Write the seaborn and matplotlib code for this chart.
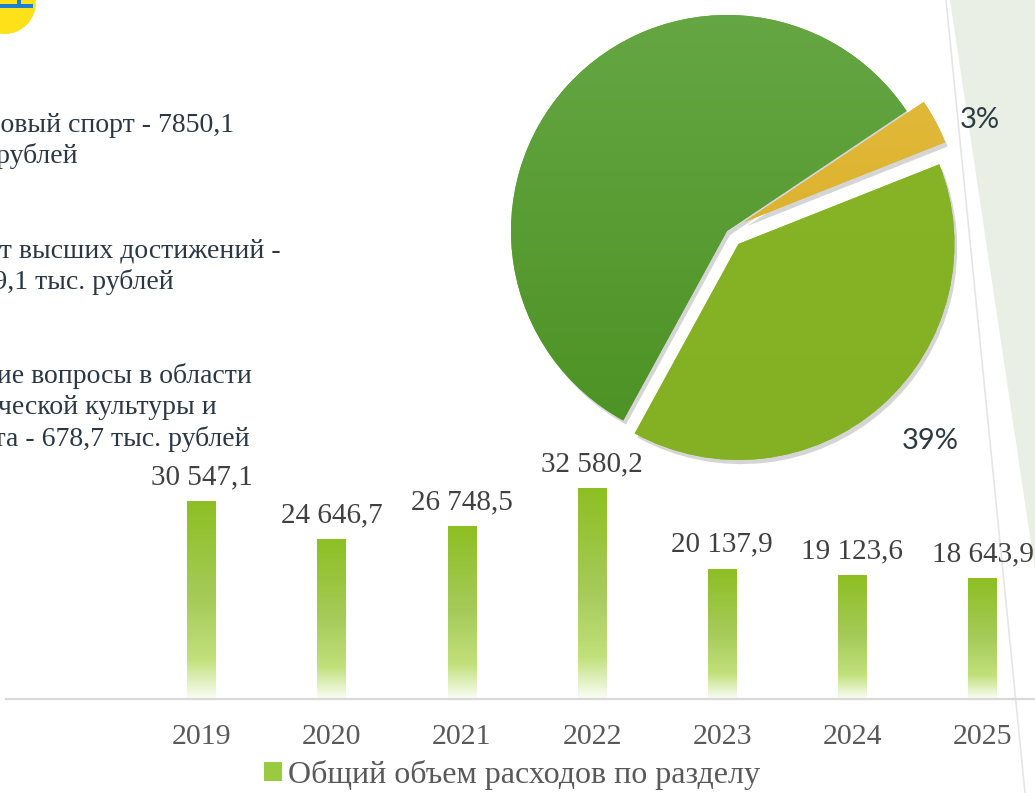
import numpy as np
import pandas as pd
import matplotlib.pyplot as plt
import matplotlib.patches as mpatches
import matplotlib.patheffects as pe
from matplotlib.lines import Line2D
from matplotlib.colors import LinearSegmentedColormap
import seaborn as sns

# data
years = ["2019", "2020", "2021", "2022", "2023", "2024", "2025"]
totals = [30547.1, 24646.7, 26748.5, 32580.2, 20137.9, 19123.6, 18643.9]
legend_label = "Общий объем расходов по разделу"

pie_parts = ["Спорт высших достижений", "Другие вопросы", "Массовый спорт"]
pie_values = [11609.1, 678.7, 7850.1]
pie_show_label = [False, True, True]

side_text = [
    ["Массовый спорт - 7850,1", "тыс. рублей"],
    ["Спорт высших достижений -", "11609,1 тыс. рублей"],
    ["Другие вопросы в области", "физической культуры и", "спорта - 678,7 тыс. рублей"],
]

W, H = 1035, 793


def fx(px):
    return px / W


def fy(py):
    return 1 - py / H


def fmt(v):
    return f"{v:,.1f}".replace(",", " ").replace(".", ",")


sns.set_theme(style="white")
plt.rcParams['font.family'] = ['Liberation Serif', 'DejaVu Serif']

fig = plt.figure(figsize=(10.35, 7.93), dpi=100)
fig.patch.set_facecolor('white')

# slide decoration on the right and the logo corner
fig.add_artist(mpatches.Polygon([[fx(950), fy(0)], [fx(1035), fy(0)], [fx(1035), fy(570)]],
                                closed=True, transform=fig.transFigure, facecolor='#E9EFE5',
                                edgecolor='none', zorder=-2))
fig.add_artist(Line2D([fx(946), fx(1025)], [fy(0), fy(793)], transform=fig.transFigure,
                      color='#E4E6E4', lw=1.2, zorder=-1))
fig.add_artist(mpatches.Ellipse((fx(5), fy(2)), 62 / W, 64 / H, transform=fig.transFigure,
                                facecolor='#FFE119', edgecolor='none'))
fig.add_artist(mpatches.Rectangle((fx(0), fy(8)), 33 / W, 4 / H, transform=fig.transFigure,
                                  facecolor='#1F7FCF', edgecolor='none'))
fig.add_artist(mpatches.Rectangle((fx(17), fy(8)), 4 / W, 8 / H, transform=fig.transFigure,
                                  facecolor='#1F7FCF', edgecolor='none'))

# left text blocks (cut off by the slide edge)
baselines = [[132, 163], [258, 289], [383, 414, 446]]
for block, ys in zip(side_text, baselines):
    for line, yb in zip(block, ys):
        fig.text(fx(-61), fy(yb), line, fontsize=20, color='#2B3742', va='baseline', ha='left')

# bar chart
ax = fig.add_axes([fx(6.25), fy(699), 1041.4 / W, 259.2 / H])
ax.patch.set_alpha(0)
df = pd.DataFrame({'year': years, 'total': totals})
sns.barplot(data=df, x='year', y='total', color='#8DBF22', width=0.22, ax=ax)
ax.set_xlim(-1.5, 6.5)
ax.set_ylim(0, 40000)

bar_cmap = LinearSegmentedColormap.from_list(
    'bar', [(0, '#FBFDF6'), (0.1, '#DDEFB8'), (0.2, '#C1E07A'), (0.5, '#A6CB5A'), (1, '#8DBF22')])
grad = np.linspace(0, 1, 256).reshape(-1, 1)
for p in ax.patches:
    x0, w, h = p.get_x(), p.get_width(), p.get_height()
    im = ax.imshow(grad, extent=[x0, x0 + w, 0, h], origin='lower', aspect='auto',
                   cmap=bar_cmap, zorder=p.get_zorder() + 0.1)
    im.set_clip_path(p)
ax.set_xlim(-1.5, 6.5)
ax.set_ylim(0, 40000)

for i, v in enumerate(totals):
    ax.annotate(fmt(v), xy=(i, v), xytext=(0, 12), textcoords='offset points',
                ha='center', va='baseline', fontsize=21, color='#404040', annotation_clip=False)

sns.despine(ax=ax, left=True)
ax.spines['bottom'].set_color('#D9D9D9')
ax.spines['bottom'].set_linewidth(1.6)
ax.set_yticks([])
ax.set_xlabel('')
ax.set_ylabel('')
ax.tick_params(axis='x', length=0, pad=18, labelsize=21.5, labelcolor='#595959')

handle = mpatches.Patch(facecolor='#9ACA40', edgecolor='none')
fig.legend([handle], [legend_label], loc='center', bbox_to_anchor=(fx(512), fy(775)),
           frameon=False, fontsize=23, handlelength=0.56, handleheight=0.56,
           handletextpad=0.2, labelcolor='#595959')

# pie chart
R = 216
C = (727, 231)
size = 2.6 * R
pax = fig.add_axes([fx(C[0] - size / 2), fy(C[1] + size / 2), size / W, size / H])
pax.patch.set_alpha(0)
pie_colors = ['#58A033', '#DDB22E', '#86B226']
wedges, _ = pax.pie(pie_values, colors=pie_colors, startangle=241.3, counterclock=False,
                    explode=[0.0, 0.09, 0.08], radius=1, wedgeprops=dict(linewidth=0))
pax.set_xlim(-1.3, 1.3)
pax.set_ylim(-1.3, 1.3)

wedge_grads = [['#4A9020', '#67A846'], ['#D3A81F', '#E6BD40'], ['#84B024', '#88B428']]
for wdg, cols in zip(wedges, wedge_grads):
    wdg.set_path_effects([pe.SimplePatchShadow(offset=(2, -3), shadow_rgbFace='#777777', alpha=0.3),
                          pe.Normal()])
    cm = LinearSegmentedColormap.from_list('w', cols)
    im = pax.imshow(grad, extent=[-1.15, 1.15, -1.15, 1.15], origin='lower', aspect='auto',
                    cmap=cm, zorder=wdg.get_zorder() + 0.1)
    im.set_clip_path(wdg)
pax.set_xlim(-1.3, 1.3)
pax.set_ylim(-1.3, 1.3)
pax.set_aspect('equal')
pax.axis('off')

# label placement inside each wedge's angular span: (fraction of span, distance)
label_place = [(0.5, 1.2), (0.14, 1.19), (0.52, 1.275)]
total = sum(pie_values)
for wdg, val, show, (frac, dist) in zip(wedges, pie_values, pie_show_label, label_place):
    if not show:
        continue
    th = np.deg2rad(wdg.theta1 + frac * (wdg.theta2 - wdg.theta1))
    cx, cy = wdg.center
    pax.text(cx + dist * np.cos(th), cy + dist * np.sin(th), f"{val / total * 100:.0f}%",
             ha='center', va='center', fontsize=21, color='#2C3A44', family=['Lato', 'DejaVu Sans'])

fig.savefig('out.png', dpi=100)
